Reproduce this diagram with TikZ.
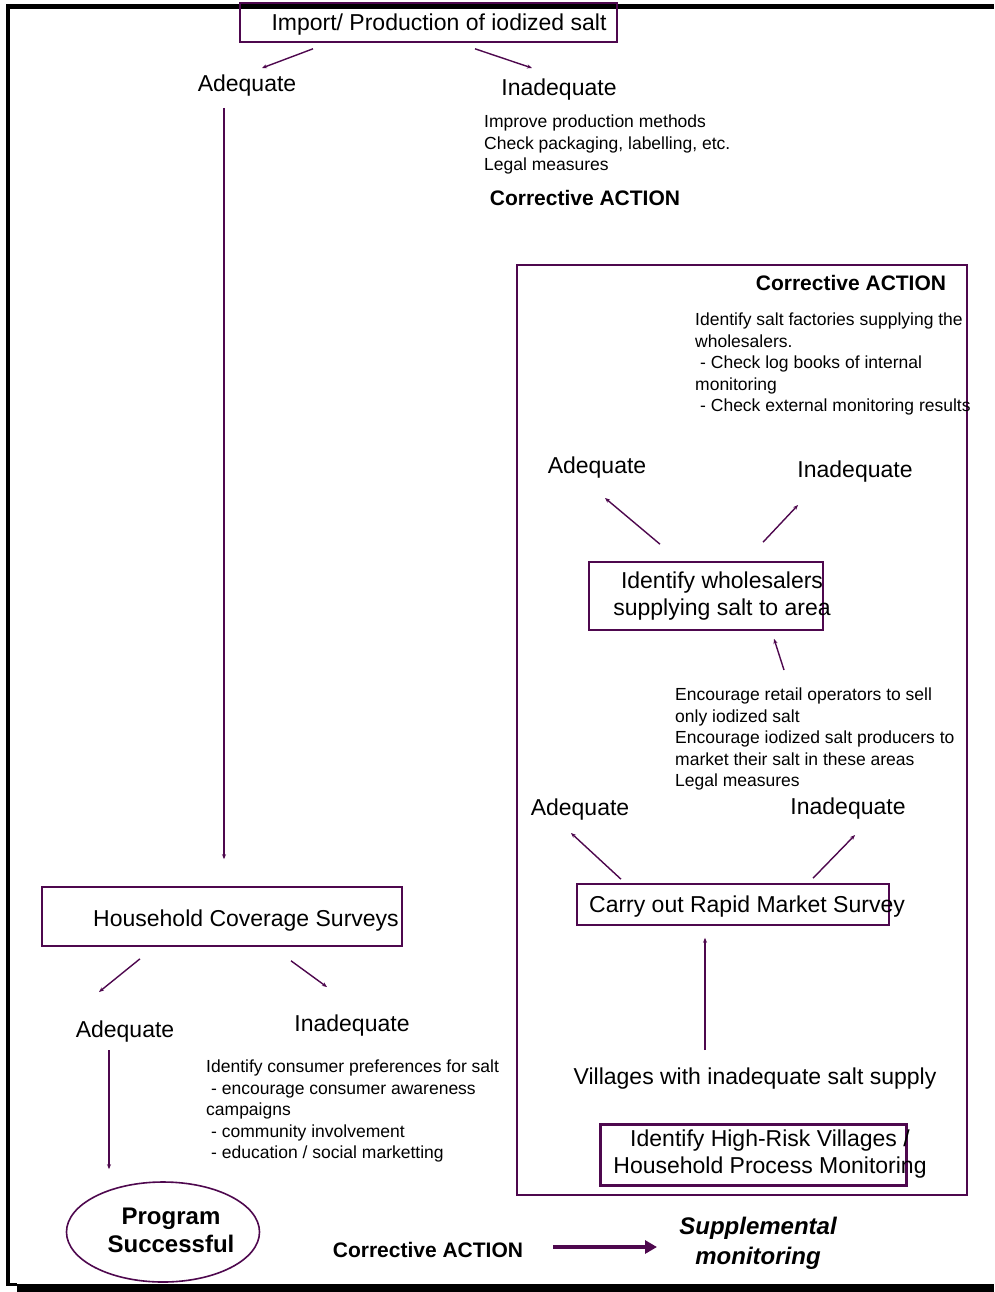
\documentclass[tikz,border=0pt]{standalone}
\usepackage{fontspec}
\setmainfont{Liberation Sans}
\usetikzlibrary{shapes,arrows.meta,positioning}
\definecolor{plum}{RGB}{78,8,78}
\tikzset{
  stepbox/.style={draw=plum, line width=1.6pt, inner sep=0pt},
  bigtxt/.style={font=\fontsize{23}{27}\selectfont, inner sep=0pt, yshift=-2.5pt},
  smalltxt/.style={font=\fontsize{17.5}{21.4}\selectfont, align=left, anchor=north west, inner sep=0pt, yshift=-2pt},
  hdr/.style={font=\fontsize{21}{25}\selectfont\bfseries, inner sep=0pt},
  flow/.style={draw=plum, line width=1.4pt, -{Stealth[length=5pt,width=4pt]}}
}

\begin{document}
\begin{tikzpicture}[x=1pt, y=-1pt]
\useasboundingbox (0,0) rectangle (994,1292);
% frame
\draw[line width=4.5pt] (8,1285) -- (8,6.5) -- (994,6.5);
\fill (17,1284) rectangle (994,1292);
\fill (6,1283) rectangle (17,1286);

% production level
\node[stepbox, minimum width=377, minimum height=39] (imp) at (428.5,22.5) {};
\node[bigtxt] (imptxt) at (439,22) {Import/ Production of iodized salt};
\node[bigtxt] (adq1) at (247,83) {Adequate};
\node[bigtxt] (inq1) at (559,87) {Inadequate};
\node[smalltxt] (fix1) at (484,113) {Improve production methods\\Check packaging, labelling, etc.\\Legal measures};
\node[hdr] (ca1) at (585,198) {Corrective ACTION};

% supplemental monitoring
\node[stepbox, minimum width=450, minimum height=930] (sup) at (742,730) {};
\node[hdr] (ca2) at (851,283) {Corrective ACTION};
\node[smalltxt] (fix2) at (695,311) {Identify salt factories supplying the\\wholesalers.\\\hspace*{5pt}- Check log books of internal\\monitoring\\\hspace*{5pt}- Check external monitoring results};
\node[bigtxt] (adq2) at (597,465) {Adequate};
\node[bigtxt] (inq2) at (855,469) {Inadequate};
\node[stepbox, minimum width=234, minimum height=68] (whl) at (706,596) {};
\node[bigtxt, align=center] (whltxt) at (722,594) {Identify wholesalers\\supplying salt to area};
\node[smalltxt] (fix3) at (675,686) {Encourage retail operators to sell\\only iodized salt\\Encourage iodized salt producers to\\market their salt in these areas\\Legal measures};
\node[bigtxt] (adq3) at (580,807) {Adequate};
\node[bigtxt] (inq3) at (848,806) {Inadequate};
\node[stepbox, minimum width=312, minimum height=41] (rms) at (733,904.5) {};
\node[bigtxt] (rmstxt) at (747,904) {Carry out Rapid Market Survey};
\node[bigtxt] (vil) at (755,1076) {Villages with inadequate salt supply};
\node[stepbox, line width=3pt, minimum width=306, minimum height=61] (hrv) at (753,1154.5) {};
\node[bigtxt, align=center] (hrvtxt) at (770,1152) {Identify High-Risk Villages /\\Household Process Monitoring};

% household level
\node[stepbox, minimum width=360, minimum height=59] (hcs) at (222,916.5) {};
\node[bigtxt] (hcstxt) at (246,918) {Household Coverage Surveys};
\node[bigtxt] (adq4) at (125,1029) {Adequate};
\node[bigtxt] (inq4) at (352,1023) {Inadequate};
\node[smalltxt] (fix4) at (206,1058) {Identify consumer preferences for salt\\\hspace*{5pt}- encourage consumer awareness\\campaigns\\\hspace*{5pt}- community involvement\\\hspace*{5pt}- education / social marketting};
\node[draw=plum, line width=1.6pt, ellipse, minimum width=193, minimum height=100] (ok) at (163,1232) {};
\node[align=center, inner sep=0pt, font=\fontsize{24}{28}\selectfont\bfseries] (oktxt) at (171,1230.5) {Program\\Successful};
\node[hdr] (ca3) at (428,1250) {Corrective ACTION};
\node[align=center, inner sep=0pt, font=\fontsize{24}{30}\selectfont\bfseries\itshape] (supm) at (758,1243) {Supplemental\\monitoring};

% connector ends
\coordinate (t1) at (262,68);
\coordinate (t2) at (532,68);
\coordinate (s1) at (224,108);
\coordinate (t3) at (605,498);
\coordinate (t4) at (798,505);
\coordinate (s2) at (784,670);
\coordinate (t5) at (571,833);
\coordinate (t6) at (855,835);
\coordinate (s3) at (705,1050);
\coordinate (t7) at (99,992);
\coordinate (t8) at (327,987);
\coordinate (s4) at (109,1050);
\coordinate (s5) at (553,1247);
\coordinate (t9) at (657,1247);

\draw[flow] ([xshift=-115.5pt,yshift=-6pt]imp.south) -- (t1);
\draw[flow] ([xshift=46.5pt,yshift=-6pt]imp.south) -- (t2);
\draw[flow] (s1) -- ([xshift=2pt,yshift=27pt]hcs.north);
\draw[flow] ([xshift=-46pt,yshift=17pt]whl.north) -- (t3);
\draw[flow] ([xshift=57pt,yshift=19pt]whl.north) -- (t4);
\draw[flow] (s2) -- ([xshift=68pt,yshift=-8pt]whl.south);
\draw[flow] ([xshift=-112pt,yshift=4pt]rms.north) -- (t5);
\draw[flow] ([xshift=80pt,yshift=5pt]rms.north) -- (t6);
\draw[flow] (s3) -- ([xshift=-28pt,yshift=-12pt]rms.south);
\draw[flow] ([xshift=-82pt,yshift=-12pt]hcs.south) -- (t7);
\draw[flow] ([xshift=69pt,yshift=-14pt]hcs.south) -- (t8);
\draw[flow] (s4) -- ([xshift=-54pt,yshift=12pt]ok.north);
\draw[plum, line width=4pt, -{Triangle[length=12pt,width=13pt]}] (s5) -- (t9);
\end{tikzpicture}
\end{document}
